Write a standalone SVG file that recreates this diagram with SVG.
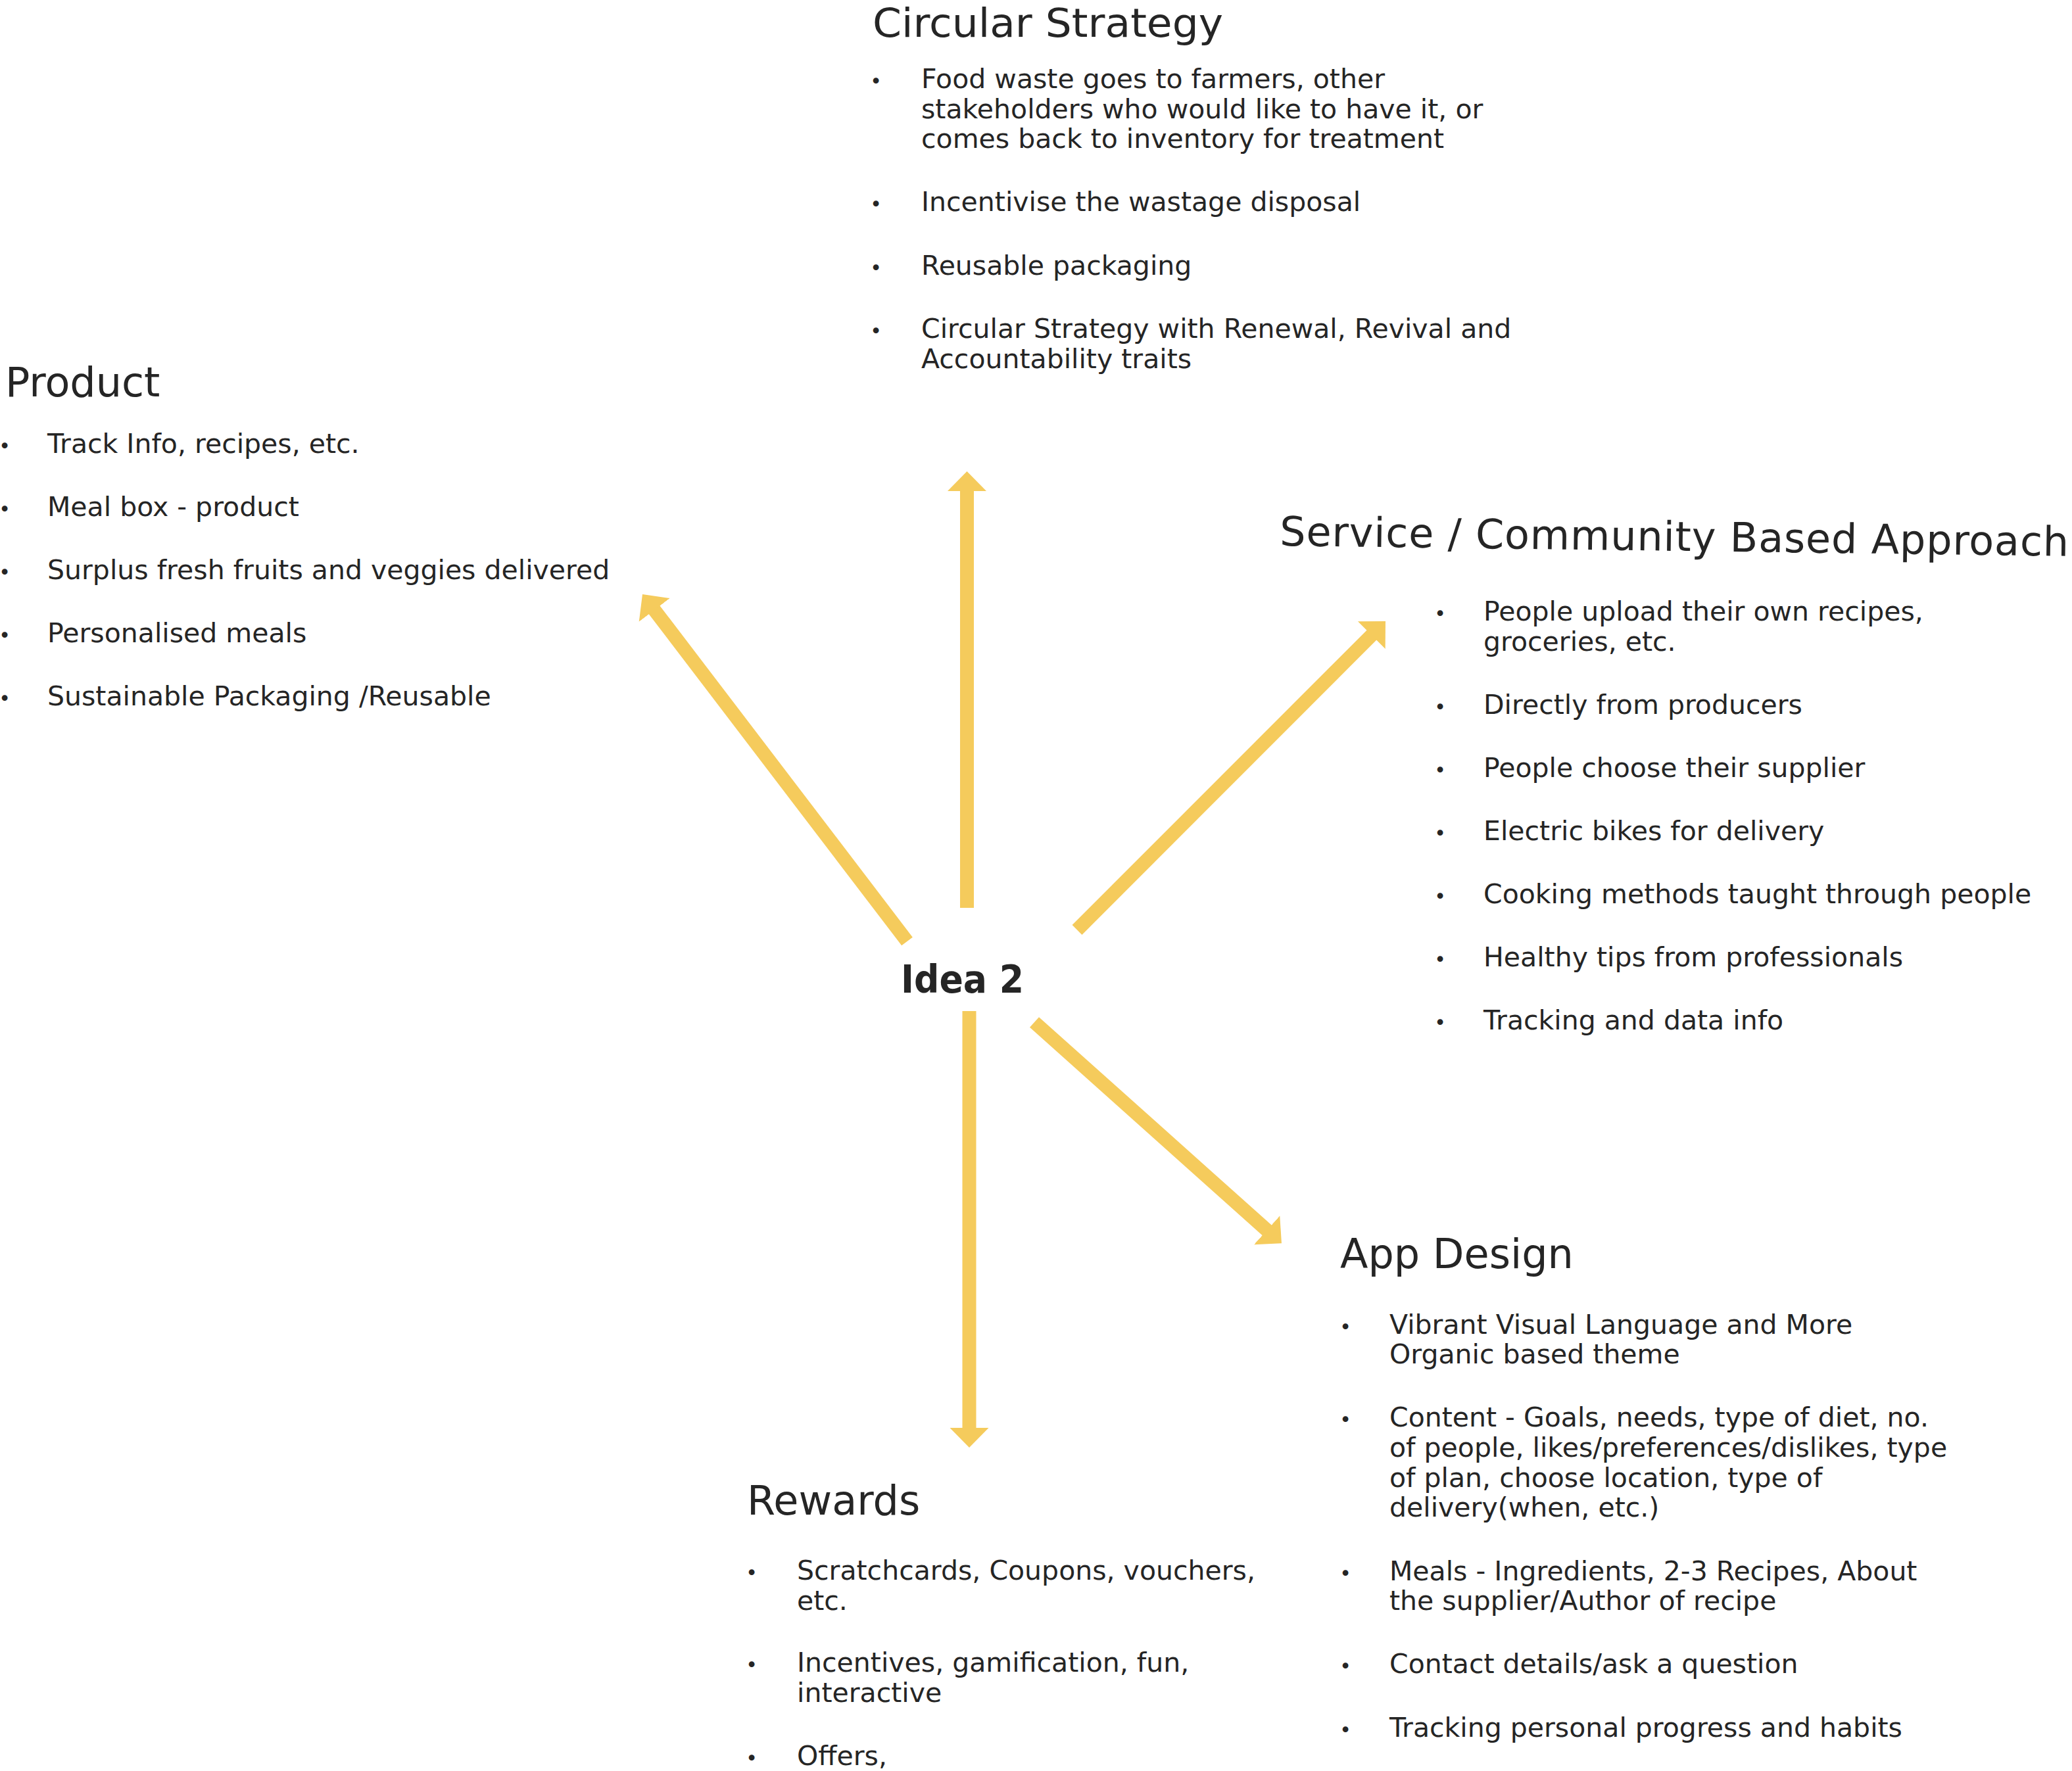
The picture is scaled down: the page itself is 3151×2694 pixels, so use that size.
<svg xmlns="http://www.w3.org/2000/svg" width="3151" height="2694" viewBox="0 0 3151 2694">
<style>
text { font-family: "DejaVu Sans", "Liberation Sans", sans-serif; fill: #252525; }
.t { font-size: 62px; }
.l { font-size: 41px; }
.b { font-size: 30px; text-anchor: middle; }
.c { font-size: 58px; font-weight: bold; }
.arrow { stroke: #F5CB5C; stroke-width: 21; stroke-linecap: butt; fill: none; marker-end: url(#ah); }
</style>
<defs>
<marker id="ah" markerUnits="userSpaceOnUse" markerWidth="34" markerHeight="62" viewBox="0 -31 34 62" refX="2" refY="0" orient="auto">
<path d="M0,-29.5 L30,0 L0,29.5 Z" fill="#F5CB5C"/>
</marker>
</defs>
<rect width="3151" height="2694" fill="#ffffff"/>
<g id="connectors">
<line class="arrow" x1="1470.5" y1="1381" x2="1470.5" y2="745"/>
<line class="arrow" x1="1379.5" y1="1432" x2="994" y2="926.3"/>
<line class="arrow" x1="1638" y1="1414.5" x2="2087.2" y2="964.8"/>
<line class="arrow" x1="1573" y1="1555" x2="1928.1" y2="1872.7"/>
<line class="arrow" x1="1474" y1="1538" x2="1474" y2="2174"/>
</g>
<g id="idea2">
<text class="c" x="1370" y="1510" textLength="187" lengthAdjust="spacingAndGlyphs">Idea 2</text>
</g>
<g id="circular-strategy">
<text class="t" x="1327" y="56" style="font-size:60px" textLength="533" lengthAdjust="spacingAndGlyphs">Circular Strategy</text>
<text class="b" x="1332" y="134">•</text>
<text class="l" x="1401" y="134">Food waste goes to farmers, other</text>
<text class="l" x="1401" y="180">stakeholders who would like to have it, or</text>
<text class="l" x="1401" y="225">comes back to inventory for treatment</text>
<text class="b" x="1332" y="321">•</text>
<text class="l" x="1401" y="321">Incentivise the wastage disposal</text>
<text class="b" x="1332" y="418">•</text>
<text class="l" x="1401" y="418">Reusable packaging</text>
<text class="b" x="1332" y="514">•</text>
<text class="l" x="1401" y="514">Circular Strategy with Renewal, Revival and</text>
<text class="l" x="1401" y="560">Accountability traits</text>
</g>
<g id="product">
<text class="t" x="8" y="603">Product</text>
<text class="b" x="7" y="689">•</text>
<text class="l" x="72" y="689">Track Info, recipes, etc.</text>
<text class="b" x="7" y="785">•</text>
<text class="l" x="72" y="785">Meal box - product</text>
<text class="b" x="7" y="881">•</text>
<text class="l" x="72" y="881">Surplus fresh fruits and veggies delivered</text>
<text class="b" x="7" y="977">•</text>
<text class="l" x="72" y="977">Personalised meals</text>
<text class="b" x="7" y="1073">•</text>
<text class="l" x="72" y="1073">Sustainable Packaging /Reusable</text>
</g>
<g id="service">
<text class="t" x="1946" y="830" textLength="1200" lengthAdjust="spacing" transform="rotate(0.75 1946 830)">Service / Community Based Approach</text>
<text class="b" x="2190" y="944">•</text>
<text class="l" x="2256" y="944">People upload their own recipes,</text>
<text class="l" x="2256" y="990">groceries, etc.</text>
<text class="b" x="2190" y="1086">•</text>
<text class="l" x="2256" y="1086">Directly from producers</text>
<text class="b" x="2190" y="1182">•</text>
<text class="l" x="2256" y="1182">People choose their supplier</text>
<text class="b" x="2190" y="1278">•</text>
<text class="l" x="2256" y="1278">Electric bikes for delivery</text>
<text class="b" x="2190" y="1374">•</text>
<text class="l" x="2256" y="1374">Cooking methods taught through people</text>
<text class="b" x="2190" y="1470">•</text>
<text class="l" x="2256" y="1470">Healthy tips from professionals</text>
<text class="b" x="2190" y="1566">•</text>
<text class="l" x="2256" y="1566">Tracking and data info</text>
</g>
<g id="app-design">
<text class="t" x="2038" y="1929">App Design</text>
<text class="b" x="2046" y="2029">•</text>
<text class="l" x="2113" y="2029">Vibrant Visual Language and More</text>
<text class="l" x="2113" y="2074">Organic based theme</text>
<text class="b" x="2046" y="2170">•</text>
<text class="l" x="2113" y="2170">Content - Goals, needs, type of diet, no.</text>
<text class="l" x="2113" y="2216">of people, likes/preferences/dislikes, type</text>
<text class="l" x="2113" y="2262">of plan, choose location, type of</text>
<text class="l" x="2113" y="2307">delivery(when, etc.)</text>
<text class="b" x="2046" y="2404">•</text>
<text class="l" x="2113" y="2404">Meals - Ingredients, 2-3 Recipes, About</text>
<text class="l" x="2113" y="2449">the supplier/Author of recipe</text>
<text class="b" x="2046" y="2545">•</text>
<text class="l" x="2113" y="2545">Contact details/ask a question</text>
<text class="b" x="2046" y="2642">•</text>
<text class="l" x="2113" y="2642">Tracking personal progress and habits</text>
</g>
<g id="rewards">
<text class="t" x="1136" y="2304">Rewards</text>
<text class="b" x="1143" y="2403">•</text>
<text class="l" x="1212" y="2403">Scratchcards, Coupons, vouchers,</text>
<text class="l" x="1212" y="2449">etc.</text>
<text class="b" x="1143" y="2543">•</text>
<text class="l" x="1212" y="2543">Incentives, gamification, fun,</text>
<text class="l" x="1212" y="2589">interactive</text>
<text class="b" x="1143" y="2685">•</text>
<text class="l" x="1212" y="2685">Offers,</text>
</g>
</svg>
